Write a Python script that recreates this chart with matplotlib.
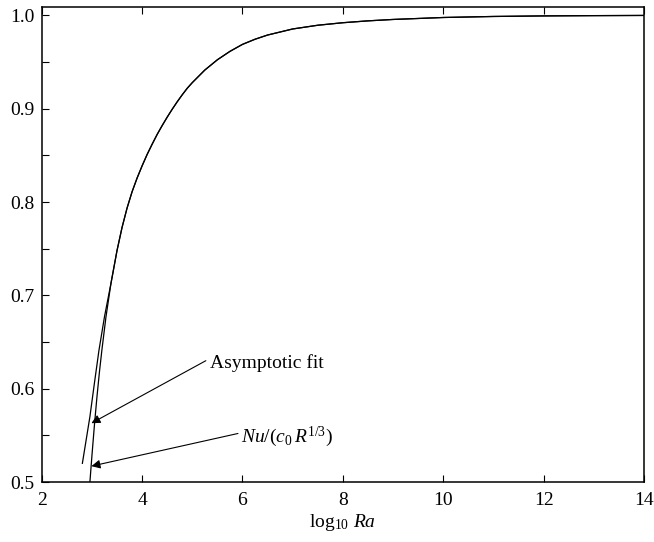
import numpy as np
import matplotlib.pyplot as plt

plt.rcParams["font.family"] = "Liberation Serif"
plt.rcParams["mathtext.fontset"] = "custom"
plt.rcParams["mathtext.rm"] = "Liberation Serif"
plt.rcParams["mathtext.it"] = "Liberation Serif:italic"

# -----------------------------
# Data
# -----------------------------

# common upper part of both curves (they lie on top of each other here)
upper_x = [3.38, 3.50, 3.60, 3.70, 3.80, 3.90, 4.00, 4.10, 4.20, 4.30,
           4.40, 4.50, 4.60, 4.70, 4.80, 4.90, 5.00, 5.25, 5.50, 5.75,
           6.00, 6.25, 6.50, 7.00, 7.50, 8.00, 8.50, 9.00, 10.0, 11.0,
           12.0, 13.0, 14.0]
upper_y = [0.713, 0.748, 0.7727, 0.7935, 0.811, 0.8257, 0.8388, 0.851,
           0.862, 0.8725, 0.882, 0.891, 0.8995, 0.9075, 0.915, 0.922,
           0.928, 0.9415, 0.9525, 0.9615, 0.969, 0.9745, 0.979, 0.9855,
           0.9895, 0.9922, 0.9942, 0.9957, 0.9978, 0.9989, 0.9995,
           0.9998, 1.000]

# Nu/(c0 R^1/3), low end
nu_low_x = [2.96, 3.00, 3.05, 3.10, 3.15, 3.20, 3.28]
nu_low_y = [0.500, 0.528, 0.561, 0.591, 0.618, 0.642, 0.677]

# asymptotic fit, low end
fit_low_x = [2.81, 2.885, 2.96, 3.05, 3.14, 3.25]
fit_low_y = [0.520, 0.545, 0.570, 0.606, 0.641, 0.677]

x_ticks = [2, 4, 6, 8, 10, 12, 14]
y_ticks = [0.5, 0.6, 0.7, 0.8, 0.9, 1.0]
y_minor = [0.55, 0.65, 0.75, 0.85, 0.95]

# -----------------------------
# Plot
# -----------------------------

fig = plt.figure(figsize=(6.54, 5.42), dpi=100)
ax = fig.add_axes([0.0638, 0.1107, 0.9209, 0.8763])

ax.plot(fit_low_x + upper_x, fit_low_y + upper_y, color="k", lw=0.9)
ax.plot(nu_low_x + upper_x, nu_low_y + upper_y, color="k", lw=0.9)

ax.set_xlim(2, 14)
ax.set_ylim(0.5, 1.009)
ax.set_xticks(x_ticks)
ax.set_yticks(y_ticks)
ax.set_yticks(y_minor, minor=True)
ax.set_yticklabels(["%.1f" % v for v in y_ticks])

ax.tick_params(axis="x", which="both", direction="in", top=True, length=5,
               width=0.8, labelsize=14, pad=7)
ax.tick_params(axis="y", which="both", direction="in", right=False, length=5,
               width=0.8, labelsize=14, pad=5)
for s in ax.spines.values():
    s.set_linewidth(1.1)

ax.set_xlabel(r"log$_{10}$ $Ra$", fontsize=14, labelpad=2)

# labels with arrows
ax.text(5.36, 0.622, "Asymptotic fit", fontsize=14, va="baseline")
ax.annotate("", xy=(2.99, 0.563), xytext=(5.27, 0.630),
            arrowprops=dict(arrowstyle="-|>", color="k", lw=0.8,
                            mutation_scale=13, shrinkA=0, shrinkB=0))

ax.text(5.98, 0.543, r"$Nu/(c_0\,R^{1/3})$", fontsize=14, va="baseline")
ax.annotate("", xy=(2.99, 0.517), xytext=(5.91, 0.552),
            arrowprops=dict(arrowstyle="-|>", color="k", lw=0.8,
                            mutation_scale=13, shrinkA=0, shrinkB=0))

plt.savefig("out.png", dpi=100)
